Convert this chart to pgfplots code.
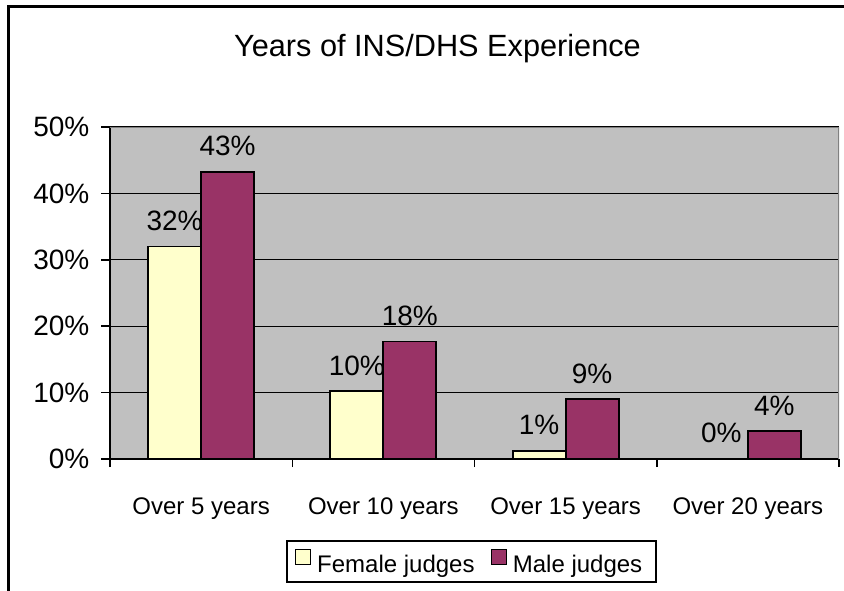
\documentclass[border=0pt]{standalone}
\usepackage{fontspec}
\setmainfont{Liberation Sans}
\usepackage{pgfplots}
\pgfplotsset{compat=1.18}
\definecolor{plotgray}{HTML}{C0C0C0}
\definecolor{bordergray}{HTML}{808080}
\definecolor{femalec}{HTML}{FFFFCC}
\definecolor{malec}{HTML}{993366}
\pgfplotsset{sqlegend/.style={legend image code/.code={\draw[##1, line width=1.3pt] (0pt,0.5pt) rectangle (15pt,15.5pt);}}}
\begin{document}
\begin{tikzpicture}[x=1pt,y=1pt]
\useasboundingbox (0,0) rectangle (844,590);
\fill[white] (0,0) rectangle (844,590);
\begin{axis}[
  at={(110pt,131pt)}, anchor=south west,
  scale only axis, width=729pt, height=332pt,
  /pgf/number format/assume math mode=true,
  ybar=0pt, bar width=53pt,
  xmin=-0.5, xmax=3.5, ymin=0, ymax=50,
  axis background/.style={fill=plotgray},
  axis x line*=bottom, axis y line*=left,
  axis line style={black, line width=2pt},
  ytick={0,10,20,30,40,50},
  yticklabel={\pgfmathprintnumber{\tick}\%},
  yticklabel style={font=\fontsize{28}{30}\selectfont, anchor=east, inner sep=0pt, xshift=-11.5pt},
  xtick={0,1,2,3},
  xticklabels={Over 5 years,Over 10 years,Over 15 years,Over 20 years},
  xticklabel style={font=\fontsize{24}{26}\selectfont, anchor=base, inner sep=0pt, yshift=-46pt},
  major x tick style={draw=none},
  minor xtick={-0.5,0.5,1.5,2.5,3.5},
  tick align=outside,
  major tick length=9pt, minor tick length=8pt,
  tick style={black, line width=1.5pt},
  ymajorgrids, grid style={black, line width=1.3pt},
  nodes near coords={\pgfmathprintnumber[fixed,precision=0]{\pgfplotspointmeta}\%},
  point meta=y,
  every node near coord/.append style={font=\fontsize{28}{30}\selectfont, anchor=south, inner sep=0pt, yshift=15pt, black},
  legend columns=2,
  legend style={at={(0.496,-0.309)}, anchor=center, draw=black, line width=2pt,
    font=\fontsize{24}{26}\selectfont, inner xsep=8pt, inner ysep=8pt,
    nodes={inner xsep=6pt, inner ysep=0pt},
    /tikz/every even column/.append style={column sep=10pt}},
]
\addplot[fill=femalec, draw=black, line width=1.8pt, sqlegend]
  coordinates {(0,32) (1,10.2) (2,1.2) (3,0)};
\addplot[fill=malec, draw=black, line width=1.8pt, sqlegend]
  coordinates {(0,43.2) (1,17.7) (2,9.0) (3,4.2)};
\legend{Female judges, Male judges}
\draw[bordergray, line width=2pt] (rel axis cs:0,1) -- (rel axis cs:1,1) -- (rel axis cs:1,0);
\end{axis}
\draw[black, line width=2.5pt] (8.7,-10) -- (8.7,583.3) -- (860,583.3);
\node[anchor=base, font=\fontsize{30.7}{34}\selectfont, inner sep=0pt] at (437.5,533) {Years of INS/DHS Experience};
\end{tikzpicture}
\end{document}
